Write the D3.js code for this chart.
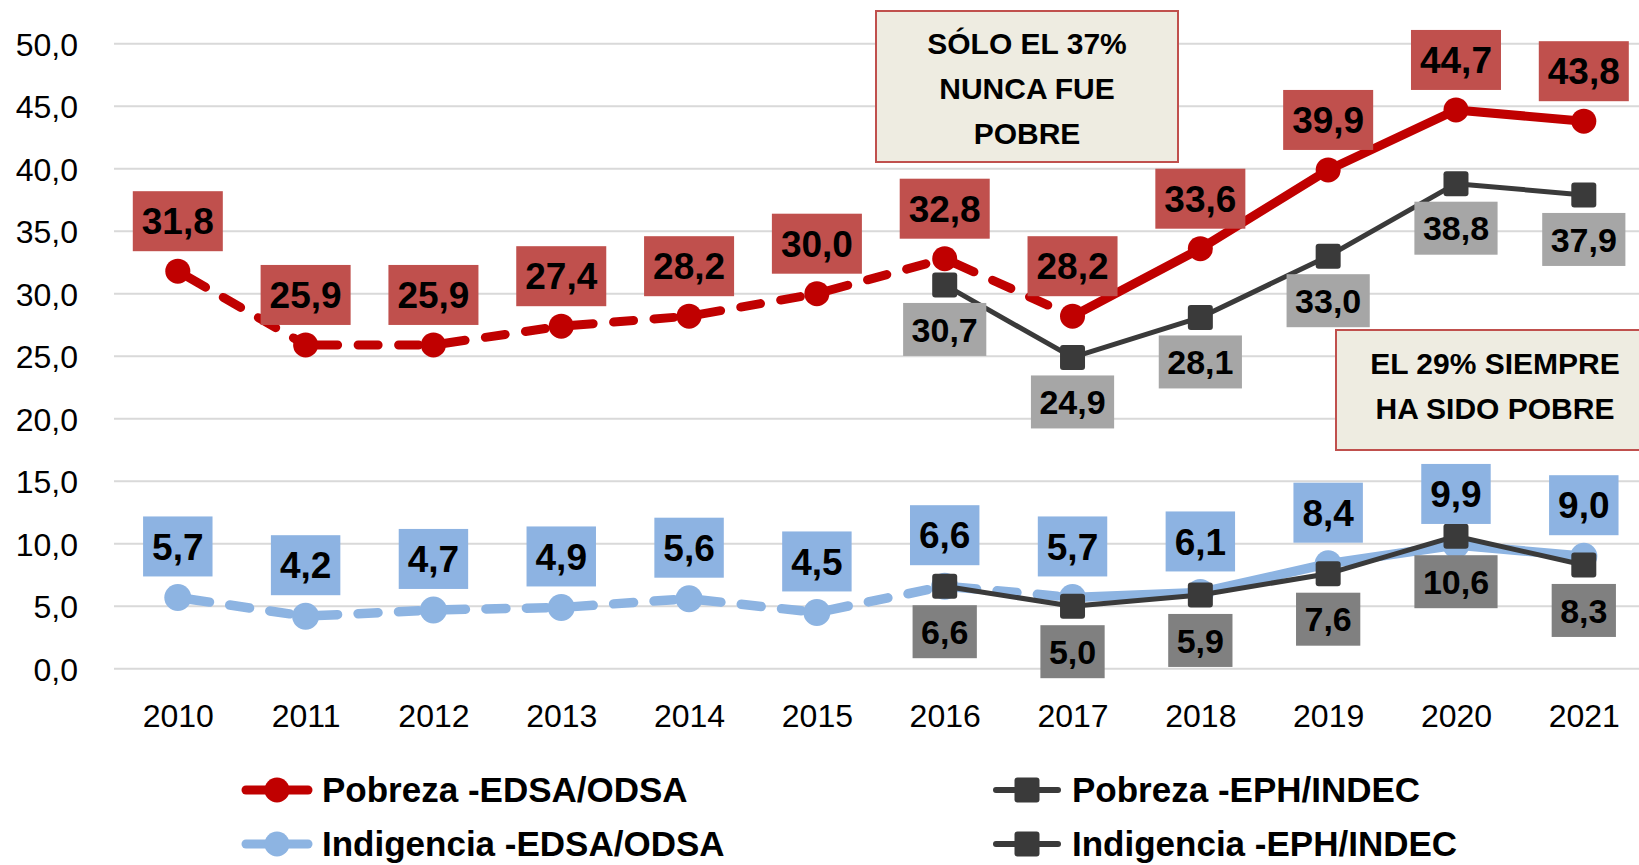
<!DOCTYPE html>
<html>
<head>
<meta charset="utf-8">
<script src="https://cdn.jsdelivr.net/npm/d3@7"></script>
<style>
html,body{margin:0;padding:0;background:#fff;}
svg{display:block;}
text{font-family:"Liberation Sans",Arial,sans-serif;}
</style>
</head>
<body>
<svg id="chart" width="1639" height="865"></svg>
<script>
// ---- data ----
const years = ["2010","2011","2012","2013","2014","2015","2016","2017","2018","2019","2020","2021"];
const pobrezaEDSA = [31.8,25.9,25.9,27.4,28.2,30.0,32.8,28.2,33.6,39.9,44.7,43.8];
const indigenciaEDSA = [5.7,4.2,4.7,4.9,5.6,4.5,6.6,5.7,6.1,8.4,9.9,9.0];
const epYears = ["2016","2017","2018","2019","2020","2021"];
const pobrezaEPH = [30.7,24.9,28.1,33.0,38.8,37.9];
const indigenciaEPH = [6.6,5.0,5.9,7.6,10.6,8.3];
const yTicks = [0,5,10,15,20,25,30,35,40,45,50];
const seriesNames = ["Pobreza -EDSA/ODSA","Pobreza -EPH/INDEC","Indigencia -EDSA/ODSA","Indigencia -EPH/INDEC"];
const note1 = ["SÓLO EL 37%","NUNCA FUE","POBRE"];
const note2 = ["EL 29% SIEMPRE","HA SIDO POBRE"];
const dashedUntil = "2017";

// ---- setup ----
const svg = d3.select("#chart");
const x = d3.scalePoint().domain(years).range([177.8, 1583.8]);
const y = d3.scaleLinear().domain([0,50]).range([668.7, 43.7]);
const loc = d3.formatLocale({decimal:",",thousands:".",grouping:[3],currency:["$",""]});
const fmt = loc.format(".1f");

const C = {
  red:"#C00000", redBox:"#C0504D",
  blue:"#8DB4E2", blueBox:"#8DB3E2",
  dark:"#3A3A3A", grayBox:"#A6A6A6", darkBox:"#808080",
  grid:"#D9D9D9", noteFill:"#EEECE1", noteStroke:"#C0504D"
};

// gridlines
svg.append("g").selectAll("line").data(yTicks).join("line")
  .attr("x1",114).attr("x2",1639)
  .attr("y1",d=>y(d)).attr("y2",d=>y(d))
  .attr("stroke",C.grid).attr("stroke-width",2);

// y axis
const yAxis = svg.append("g").attr("transform","translate(78,0)")
  .call(d3.axisLeft(y).tickValues(yTicks).tickFormat(fmt).tickSize(0).tickPadding(0));
yAxis.select(".domain").remove();
yAxis.selectAll("text").attr("font-size",32).attr("fill","#000")
  .attr("font-family","Liberation Sans, Arial, sans-serif").attr("dy","0.36em");

// x axis
const xAxis = svg.append("g").attr("transform","translate(0,704)")
  .call(d3.axisBottom(x).tickSize(0).tickPadding(0));
xAxis.select(".domain").remove();
xAxis.selectAll("text").attr("font-size",32).attr("fill","#000")
  .attr("font-family","Liberation Sans, Arial, sans-serif").attr("dy","0.71em");

const line = d3.line().x(d=>x(d.yr)).y(d=>y(d.v));
const edsa = (arr)=>years.map((yr,i)=>({yr,v:arr[i]}));
const eph = (arr)=>epYears.map((yr,i)=>({yr,v:arr[i]}));
const split = years.indexOf(dashedUntil);

function drawSplit(data, color, w){
  const dashed = data.slice(0,split+1);
  for(let i=0;i<dashed.length-1;i++){
    svg.append("path").attr("d",line([dashed[i],dashed[i+1]]))
      .attr("fill","none").attr("stroke",color).attr("stroke-width",w)
      .attr("stroke-dasharray","20,20.5").attr("stroke-dashoffset",-12)
      .attr("stroke-linecap","round");
  }
  svg.append("path").attr("d",line(data.slice(split)))
    .attr("fill","none").attr("stroke",color).attr("stroke-width",w)
    .attr("stroke-linejoin","round").attr("stroke-linecap","round");
}

const dRed = edsa(pobrezaEDSA), dBlue = edsa(indigenciaEDSA);
const dPE = eph(pobrezaEPH), dIE = eph(indigenciaEPH);

// red series
drawSplit(dRed, C.red, 9);
svg.append("g").selectAll("circle").data(dRed).join("circle")
  .attr("cx",d=>x(d.yr)).attr("cy",d=>y(d.v)).attr("r",12.5).attr("fill",C.red);
// blue series
drawSplit(dBlue, C.blue, 9.5);
svg.append("g").selectAll("circle").data(dBlue).join("circle")
  .attr("cx",d=>x(d.yr)).attr("cy",d=>y(d.v)).attr("r",13.5).attr("fill",C.blue);
// EPH series
[dPE,dIE].forEach(data=>{
  svg.append("path").attr("d",line(data)).attr("fill","none")
    .attr("stroke",C.dark).attr("stroke-width",5).attr("stroke-linejoin","round");
  svg.append("g").selectAll("rect").data(data).join("rect")
    .attr("x",d=>x(d.yr)-12.5).attr("y",d=>y(d.v)-12.5)
    .attr("width",25).attr("height",25).attr("rx",3).attr("fill",C.dark);
});

// labels
function labels(data, boxColor, offset, fs, h, pad){
  const g = svg.append("g");
  data.forEach(d=>{
    const cx = x(d.yr), cy = y(d.v)+offset;
    const t = g.append("text").text(fmt(d.v))
      .attr("font-size",fs).attr("font-weight","bold").attr("fill","#000")
      .attr("text-anchor","middle").attr("x",cx).attr("y",cy+fs*0.355);
    const w = t.node().getComputedTextLength()+pad*2;
    g.insert("rect","text").attr("x",cx-w/2).attr("y",cy-h/2)
      .attr("width",w).attr("height",h).attr("fill",boxColor);
  });
}
labels(dRed, C.redBox, -50, 37, 60, 9);
labels(dBlue, C.blueBox, -51, 37, 60, 9);
labels(dPE, C.grayBox, 44.5, 34, 53, 8.5);
labels(dIE, C.darkBox, 45.5, 34, 53, 8.5);

// notes
function note(lines, x0, y0, w, h, cx, firstY){
  const g = svg.append("g");
  g.append("rect").attr("x",x0).attr("y",y0).attr("width",w).attr("height",h)
    .attr("fill",C.noteFill).attr("stroke",C.noteStroke).attr("stroke-width",2);
  lines.forEach((s,i)=>{
    g.append("text").text(s).attr("x",cx).attr("y",firstY+i*45+10.7)
      .attr("text-anchor","middle").attr("font-size",30).attr("font-weight","bold").attr("fill","#000");
  });
}
note(note1, 876, 11, 302, 151, 1027, 43.3);
note(note2, 1336, 330, 320, 120, 1495, 363.3);

// legend
const legend = [
  {name:seriesNames[0], color:C.red, shape:"circle", lx:242, y:790},
  {name:seriesNames[1], color:C.dark, shape:"square", lx:992, y:790},
  {name:seriesNames[2], color:C.blue, shape:"circle", lx:242, y:844},
  {name:seriesNames[3], color:C.dark, shape:"square", lx:992, y:844}
];
legend.forEach(l=>{
  const g = svg.append("g");
  g.append("line").attr("x1",l.lx+4).attr("x2",l.lx+66).attr("y1",l.y).attr("y2",l.y)
    .attr("stroke",l.color).attr("stroke-width",l.shape==="circle"?9:6).attr("stroke-linecap","round");
  const mx = l.lx+35;
  if(l.shape==="circle") g.append("circle").attr("cx",mx).attr("cy",l.y).attr("r",12.5).attr("fill",l.color);
  else g.append("rect").attr("x",mx-12.5).attr("y",l.y-12.5).attr("width",25).attr("height",25).attr("rx",3).attr("fill",l.color);
  g.append("text").text(l.name).attr("x",l.lx+80).attr("y",l.y+12.3)
    .attr("font-size",35).attr("font-weight","bold").attr("fill","#000");
});
</script>
</body>
</html>
